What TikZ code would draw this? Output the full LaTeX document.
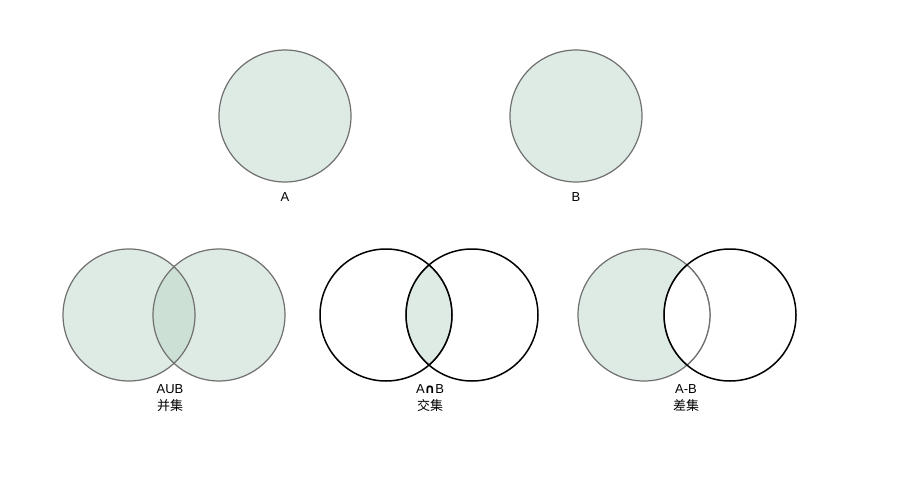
\documentclass[tikz,border=0pt]{standalone}
\usepackage{fontspec}
\setmainfont{Liberation Sans}
\newfontfamily\cjk{Noto Sans CJK SC}
\newfontfamily\dejavu{DejaVu Sans}
\begin{document}
\begin{tikzpicture}[x=1pt,y=-1pt,
  setfill/.style={fill=setgreen, draw=setgray, line width=1.2pt},
  outline/.style={draw=black, line width=1.5pt},
  lbl/.style={font=\fontsize{13}{15}\selectfont, align=center, inner sep=0pt}]
\definecolor{setgreen}{HTML}{DEEBE4}
\definecolor{setdark}{HTML}{CDE0D5}
\definecolor{setgray}{HTML}{707070}
\useasboundingbox (0,0) rectangle (900,500);
% top circles
\node[circle, setfill, minimum size=132pt, inner sep=0pt] (A) at (285,116) {};
\node[circle, setfill, minimum size=132pt, inner sep=0pt] (B) at (576,116) {};
\node[lbl] (la) at (285,197) {A};
\node[lbl] (lb) at (576,197) {B};
% union
\fill[setgreen] (129,315) circle (66);
\fill[setgreen] (219,315) circle (66);
\begin{scope}
  \clip (129,315) circle (66);
  \fill[setdark] (219,315) circle (66);
\end{scope}
\draw[setgray, line width=1.2pt] (129,315) circle (66);
\draw[setgray, line width=1.2pt] (219,315) circle (66);
\node[lbl] (lu) at (170,398) {AUB\\[2pt]{\cjk 并集}};
% intersection
\begin{scope}
  \clip (386,315) circle (66);
  \fill[setgreen] (472,315) circle (66);
\end{scope}
\draw[setgray, line width=1.2pt] (429,265) arc[start angle=229.3, end angle=130.7, radius=66]
  arc[start angle=49.3, end angle=-49.3, radius=66];
\draw[outline] (386,315) circle (66);
\draw[outline] (472,315) circle (66);
\node[lbl] (li) at (430,398) {A{\dejavu\bfseries ∩}B\\[2pt]{\cjk 交集}};
% difference
\fill[setgreen] (644,315) circle (66);
\draw[setgray, line width=1.2pt] (644,315) circle (66);
\fill[white] (687,265) arc[start angle=229.3, end angle=130.7, radius=66]
  arc[start angle=49.3, end angle=-49.3, radius=66] -- cycle;
\draw[setgray, line width=1.2pt] (687,265) arc[start angle=229.3, end angle=130.7, radius=66]
  arc[start angle=49.3, end angle=-49.3, radius=66];
\draw[outline] (730,315) circle (66);
\node[lbl] (ld) at (686,398) {A-B\\[2pt]{\cjk 差集}};
\end{tikzpicture}
\end{document}
